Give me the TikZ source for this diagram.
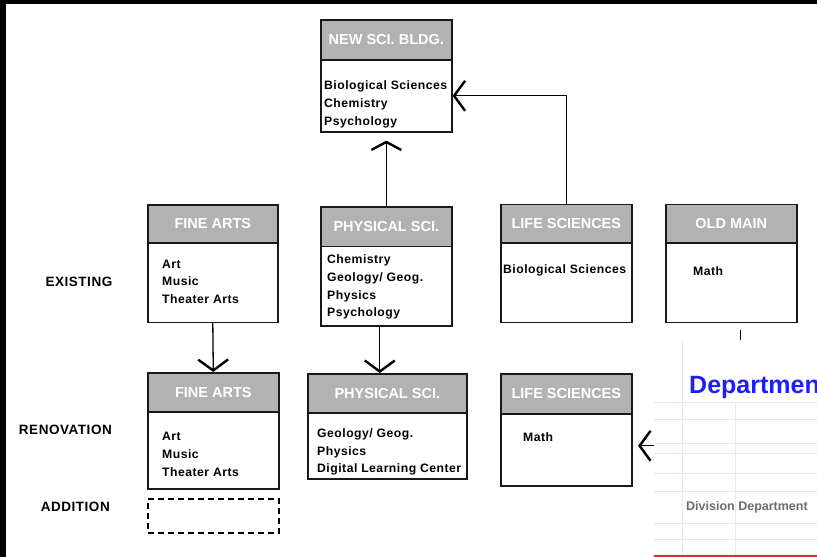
\documentclass[tikz,border=0pt]{standalone}
\usepackage{fontspec}
\setmainfont{Liberation Sans}
\newfontfamily\bodyfont[LetterSpace=4]{Liberation Sans}
\newfontfamily\hdrfont{Liberation Sans}
\usetikzlibrary{arrows.meta}
\definecolor{hdrgray}{RGB}{178,178,178}
\definecolor{edge}{RGB}{25,25,25}
\definecolor{gridc}{RGB}{226,231,240}
\definecolor{deptblue}{RGB}{30,30,250}
\definecolor{divgray}{RGB}{115,105,110}
\definecolor{redline}{RGB}{215,45,45}
\tikzset{
  hdr/.style={draw=edge, fill=hdrgray, line width=1.6pt, text=white,
    font=\hdrfont\bfseries\fontsize{14.5}{18}\selectfont, inner sep=0pt, anchor=north west},
  bodybox/.style={draw=edge, line width=1.6pt, inner sep=0pt, anchor=north west},
  addbox/.style={draw=black, line width=1.5pt, dash pattern=on 6pt off 4pt, inner sep=0pt, anchor=north west},
  btext/.style={font=\bodyfont\bfseries\fontsize{12.2}{17.7}\selectfont, align=left, inner sep=0pt, anchor=north west},
  lbl/.style={font=\bodyfont\bfseries\fontsize{13.5}{16}\selectfont, inner sep=0pt, anchor=east},
  conn/.style={draw=black, line width=1.3pt},
  tipbig/.style={-{Straight Barb[length=11pt,width=30pt,line width'=2.4pt]}},
  tipflat/.style={-{Straight Barb[length=8pt,width=30pt,line width'=2.4pt]}},
  gridl/.style={draw=gridc, line width=1pt},
}
\begin{document}
\begin{tikzpicture}[x=1pt,y=-1pt]
\useasboundingbox (0,0) rectangle (817,557);
\fill[white] (0,0) rectangle (817,557);
% frame bands
\fill[black] (0,0) rectangle (817,4);
\fill[black] (0,0) rectangle (6,557);

% row labels
\node[lbl] (lex) at (112.5,281.5) {EXISTING};
\node[lbl] (lren) at (112,429.5) {RENOVATION};
\node[lbl] (ladd) at (110,507) {ADDITION};

% NEW SCI. BLDG.
\node[hdr, minimum width=131pt, minimum height=40pt] (nsH) at (320,19) {NEW SCI. BLDG.};
\node[bodybox, minimum width=131pt, minimum height=72pt] (nsB) at (320,59) {};
\node[btext] (nsT) at (324,80.6) {Biological Sciences\\Chemistry\\Psychology};

% existing row
\node[hdr, minimum width=130pt, minimum height=38pt] (fxH) at (147,204) {FINE ARTS};
\node[bodybox, minimum width=130pt, minimum height=79.5pt] (fxB) at (147,242) {};
\node[btext] (fxT) at (162,259.6) {Art\\Music\\Theater Arts};

\node[hdr, minimum width=131pt, minimum height=39.5pt] (pxH) at (320,206) {PHYSICAL SCI.};
\node[bodybox, minimum width=131pt, minimum height=79.5pt] (pxB) at (320,245.5) {};
\node[btext] (pxT) at (327,254.6) {Chemistry\\Geology/ Geog.\\Physics\\Psychology};

\node[hdr, minimum width=131pt, minimum height=38.5pt] (lxH) at (500,203.5) {LIFE SCIENCES};
\node[bodybox, minimum width=131pt, minimum height=79.5pt] (lxB) at (500,242) {};
\node[btext] (lxT) at (503,264.6) {Biological Sciences};

\node[hdr, minimum width=131pt, minimum height=38.5pt] (omH) at (665,203.5) {OLD MAIN};
\node[bodybox, minimum width=131pt, minimum height=79.5pt] (omB) at (665,242) {};
\node[btext] (omT) at (693,266.6) {Math};

% renovation row
\node[hdr, minimum width=131pt, minimum height=39pt] (frH) at (147,372) {FINE ARTS};
\node[bodybox, minimum width=131pt, minimum height=77pt] (frB) at (147,411) {};
\node[btext] (frT) at (162,432.3) {Art\\Music\\Theater Arts};

\node[hdr, minimum width=159pt, minimum height=39pt] (prH) at (307,373) {PHYSICAL SCI.};
\node[bodybox, minimum width=159pt, minimum height=66pt] (prB) at (307,412) {};
\node[btext] (prT) at (317,428.3) {Geology/ Geog.\\Physics\\Digital Learning Center};

\node[hdr, minimum width=131pt, minimum height=40pt] (lrH) at (500,373) {LIFE SCIENCES};
\node[bodybox, minimum width=131pt, minimum height=72pt] (lrB) at (500,413) {};
\node[btext] (lrT) at (523,432.6) {Math};

% addition
\node[addbox, minimum width=131pt, minimum height=34pt] (adB) at (147,498) {};

% connectors
\draw[conn, tipflat, shorten >=8pt] (pxH.north) -- (nsB.south);
\draw[conn, tipbig] (lxH.north) |- (nsB.east);
\draw[conn, tipbig] (fxB.south) -- (frH.north);
\draw[conn, tipbig] ([xshift=-6.5pt]pxB.south) -- ([xshift=-6.5pt]pxB.south |- prH.north);
\draw[conn, tipbig, shorten <=6.5pt, shorten >=5.5pt] ([xshift=9.5pt]omB.south) |- ([yshift=4pt]lrB.east);

% overlaid spreadsheet fragment
\fill[white] (653.5,340) rectangle (817,557);
\begin{scope}
  \clip (653.5,340) rectangle (817,557);
  \foreach \yy in {402,419,443,453,473,491,523,539} {
    \draw[gridl] (653.5,\yy) -- (817,\yy);
  }
  \draw[gridl] (682.5,340) -- (682.5,557);
  \draw[gridl] (735.5,402) -- (735.5,557);
  \node[font=\hdrfont\bfseries\fontsize{25}{30}\selectfont, text=deptblue, anchor=west, inner sep=0pt] (dept) at (689,387) {Department};
  \node[font=\hdrfont\bfseries\fontsize{12.5}{15}\selectfont, text=divgray, anchor=west, inner sep=0pt] (divdep) at (686,507) {Division Department};
  \draw[draw=redline, line width=2.2pt] (653.5,556) -- (817,556);
\end{scope}
\end{tikzpicture}
\end{document}
